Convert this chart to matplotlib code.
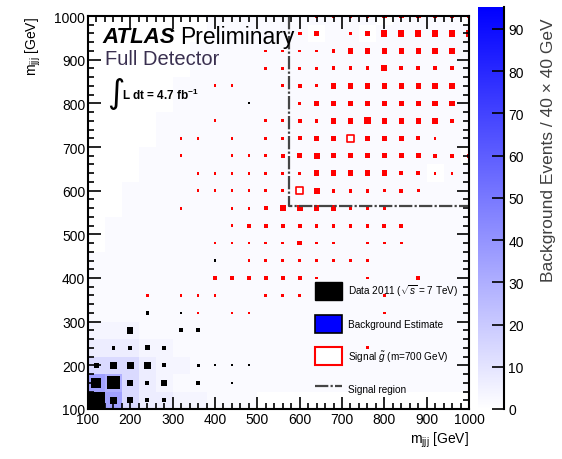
import numpy as np
import matplotlib.pyplot as plt
from matplotlib.colors import LinearSegmentedColormap, Normalize
from matplotlib.patches import Rectangle, Patch
from matplotlib.lines import Line2D
from matplotlib.collections import PatchCollection

plt.rcParams['font.family'] = ['Liberation Sans', 'DejaVu Sans']
plt.rcParams['mathtext.fontset'] = 'custom'
plt.rcParams['mathtext.rm'] = 'Liberation Sans'
plt.rcParams['mathtext.it'] = 'Liberation Sans:italic'
plt.rcParams['mathtext.bf'] = 'Liberation Sans:bold'

# 40 GeV bins, centres 120 ... 1000
bin_w = 40
edges = np.arange(100, 1041, bin_w)

# background estimate, rows y=1000 (top) ... y=120, columns x=120 ... 1000
bkg_levels = {'.': 0, '1': 2, '2': 4, '3': 7, '4': 14, '5': 30, '6': 35, '9': 95}
bkg_rows = [
    ".......1111111111.1111.",
    ".......111111.11.111111",
    "......11111111111111111",
    "......11111111111111111",
    ".....111111111111111111",
    ".....111111111111111111",
    "....1111111111111111111",
    "....1111111111111111111",
    "...1111111111111111111.",
    "...11111111111111111.11",
    "..111111111111111111111",
    "..111111111111111111111",
    ".1111111111111111111111",
    ".1111111111111111111111",
    "11111111111111111111111",
    "11111111111111111111111",
    "11111111111111111111111",
    "11111111111111111111111",
    "22211111111111111111111",
    "33322111111111111111111",
    "44432211111111111111111",
    "65432111111111111111111",
    "9643322111.............",
]

# signal gluino (m=700 GeV), rows y=1000 ... 240, columns x=240 ... 1000
sig_x0, sig_y0 = 240, 1000
sig_rows = [
    "00000000002222333333",
    "00000000023023555555",
    "00000001111244444440",
    "00000001111222522220",
    "00001100121444444440",
    "00000000014444444440",
    "00001001122446444420",
    "00110101124404442100",
    "00100111245444444222",
    "00011111114444422111",
    "00011111105222121000",
    "00100112554421100000",
    "00000122222222220000",
    "00001111131101110000",
    "00000011111111000000",
    "00002222221001002000",
    "10111001110000100000",
    "00010110000000100000",
    "00000000000000000000",
    "00000000000001000000",
]
sig_hollow_x = [600, 720]
sig_hollow_y = [600, 720]
sig_hollow_v = [7, 7]

# data 2011
data_x = [120, 160, 200, 240, 280,
          120, 160, 200, 240, 280, 360, 440,
          120, 160, 200, 240, 280, 360, 400, 440, 480,
          160, 200, 240, 280,
          200, 320, 360,
          240, 320, 400, 480]
data_y = [120, 120, 120, 120, 120,
          160, 160, 160, 160, 160, 160, 160,
          200, 200, 200, 200, 200, 200, 200, 200, 200,
          240, 240, 240, 240,
          280, 280, 280,
          320, 320, 440, 800]
data_n = [60, 10, 8, 3, 3,
          21, 33, 7, 3, 7, 3, 1,
          5, 10, 10, 10, 3, 2, 1, 1, 1,
          3, 3, 5, 3,
          8, 3, 3,
          2, 1, 1, 1]

sr_x, sr_y = 575, 565

bkg = np.array([[bkg_levels[c] for c in r] for r in bkg_rows][::-1], dtype=float)

fig = plt.figure(figsize=(5.62, 4.6), dpi=100)
ax = fig.add_axes([88 / 562, 50 / 460, 381 / 562, 393 / 460])
cmap = LinearSegmentedColormap.from_list('wb', ['#ffffff', '#0000ff'])
norm = Normalize(0, 95.2)
ax.pcolormesh(edges, edges, bkg, cmap=cmap, norm=norm)

# boxes, side grows with sqrt of content
def boxes(xs, ys, vs, vmax):
    out = []
    for x, y, v in zip(xs, ys, vs):
        w = bin_w * np.sqrt(v / vmax)
        out.append(Rectangle((x - w / 2, y - w / 2), w, w))
    return out

sx, sy, sv = [], [], []
for i, row in enumerate(sig_rows):
    for j, c in enumerate(row):
        if c != '0':
            sx.append(sig_x0 + bin_w * j)
            sy.append(sig_y0 - bin_w * i)
            sv.append(int(c))
ax.add_collection(PatchCollection(boxes(sx, sy, sv, 40), facecolor='red', edgecolor='none'))
ax.add_collection(PatchCollection(boxes(sig_hollow_x, sig_hollow_y, sig_hollow_v, 40),
                                  facecolor='white', edgecolor='red', linewidth=1.2))
ax.add_collection(PatchCollection(boxes(data_x, data_y, data_n, 60), facecolor='black', edgecolor='none'))

ax.plot([sr_x, sr_x, 1000], [1000, sr_y, sr_y], color='#454545', lw=1.6,
        linestyle=(0, (6, 1, 1, 1)))

ax.set_xlim(100, 1000)
ax.set_ylim(100, 1000)
ax.set_xticks(np.arange(100, 1001, 100))
ax.set_yticks(np.arange(100, 1001, 100))
ax.set_xticks(np.arange(100, 1001, 20), minor=True)
ax.set_yticks(np.arange(100, 1001, 20), minor=True)
ax.tick_params(which='both', direction='in', top=True, right=True, width=1.2, labelsize=10, pad=2)
ax.tick_params(which='major', length=9)
ax.tick_params(which='minor', length=4.5)
for s in ax.spines.values():
    s.set_linewidth(1.5)

ax.set_xlabel(r'm$_{\rm jjj}$ [GeV]', fontsize=10, loc='right', labelpad=3)
ax.set_ylabel(r'm$_{\rm jjj}$ [GeV]', fontsize=10, loc='top', labelpad=8)

ax.text(0.039, 0.947, 'ATLAS', transform=ax.transAxes, fontsize=16, fontweight='bold',
        fontstyle='italic', va='center')
ax.text(0.242, 0.947, 'Preliminary', transform=ax.transAxes, fontsize=16.5, va='center')
ax.text(0.045, 0.891, 'Full Detector', transform=ax.transAxes, fontsize=14.5, va='center',
        color='#3a3050')
ax.text(0.05, 0.805, '\u222b', transform=ax.transAxes, fontsize=24, va='center',
        family=['DejaVu Sans'])
ax.text(0.088, 0.8, r'L dt = 4.7 fb$^{\mathbf{-1}}$', transform=ax.transAxes, fontsize=8.5,
        fontweight='bold', va='center')

handles = [Patch(facecolor='black', edgecolor='black'),
           Patch(facecolor='blue', edgecolor='black', linewidth=1.2),
           Patch(facecolor='white', edgecolor='red', linewidth=1.5),
           Line2D([], [], color='#454545', lw=1.6, linestyle=(0, (6, 1, 1, 1)))]
labels = [r'Data 2011 ($\sqrt{s}$ = 7 TeV)', 'Background Estimate',
          r'Signal $\tilde{g}$ (m=700 GeV)', 'Signal region']
ax.legend(handles, labels, loc='upper left', bbox_to_anchor=(0.596, 0.323), frameon=False,
          fontsize=7.2, handlelength=2.7, handleheight=2.4, labelspacing=1.45,
          handletextpad=0.6, borderpad=0, borderaxespad=0)

# colour scale
cax = fig.add_axes([478 / 562, 50 / 460, 26 / 562, 402 / 460])
grad = np.linspace(0, 95.2, 256).reshape(-1, 1)
cax.imshow(grad, aspect='auto', cmap=cmap, norm=norm, origin='lower', extent=[0, 1, 0, 95.2])
cax.set_xlim(0, 1)
cax.set_ylim(0, 95.2)
cax.set_xticks([])
cax.set_yticks(np.arange(0, 91, 10))
cax.yaxis.tick_right()
cax.tick_params(axis='y', direction='in', length=9, width=1.2, labelsize=10, pad=3)
for k in ['left', 'top', 'bottom']:
    cax.spines[k].set_visible(False)
cax.spines['right'].set_linewidth(1.5)
fig.text(548 / 562, 1 - 18 / 460, 'Background Events / 40 \u00d7 40 GeV', rotation=90,
         ha='center', va='top', fontsize=12.5, color='#404040')

fig.savefig('out.png', dpi=100)
